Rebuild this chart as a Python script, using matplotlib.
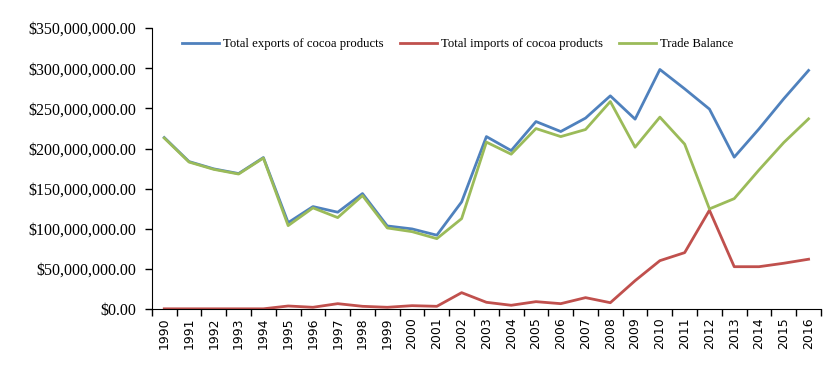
import numpy as np
import matplotlib
matplotlib.use("Agg")
from matplotlib import pyplot as plt
from matplotlib.ticker import FuncFormatter, FixedLocator

# === DATA ===
years = [str(y) for y in range(1990, 2017)]
exports = [213.7, 183.8, 174.7, 168.9, 188.8, 107.8, 127.8, 120.8, 144.0, 103.7,
           100.0, 92.2, 133.6, 214.9, 197.5, 233.6, 221.2, 237.9, 265.6, 236.6,
           298.4, 274.3, 249.1, 189.3, 224.5, 262.0, 297.2]
imports = [0.6, 0.6, 0.6, 0.6, 0.6, 4.1, 2.5, 7.0, 3.7, 2.5,
           4.5, 3.7, 20.7, 8.7, 5.0, 9.5, 7.0, 14.5, 8.2, 35.6,
           60.5, 70.5, 123.3, 53.0, 53.0, 57.3, 62.3]
balance = [213.1, 183.2, 174.1, 168.3, 188.2, 104.1, 126.2, 114.1, 141.5, 101.2,
           96.6, 87.9, 112.8, 208.0, 193.0, 224.9, 214.9, 223.7, 258.5, 201.7,
           239.1, 205.5, 124.9, 137.7, 173.4, 207.5, 237.0]

exports = np.array(exports) * 1e6
imports = np.array(imports) * 1e6
balance = np.array(balance) * 1e6

# === PLOT ===
fig = plt.figure(figsize=(8.39, 3.77), dpi=100)
ax = fig.add_axes([0.181, 0.1796, 0.7975, 0.7461])

x = np.arange(len(years))
ax.plot(x, exports, color='#4F81BD', lw=2, label='Total exports of cocoa products')
ax.plot(x, imports, color='#C0504D', lw=2, label='Total imports of cocoa products')
ax.plot(x, balance, color='#9BBB59', lw=2, label='Trade Balance')

ax.set_xlim(-0.5, len(years) - 0.5)
ax.set_ylim(0, 350e6)
ax.set_yticks(np.arange(0, 350e6 + 1, 50e6))
ax.yaxis.set_major_formatter(FuncFormatter(lambda v, p: '${:,.2f}'.format(v)))
for lab in ax.get_yticklabels():
    lab.set_fontfamily('Liberation Serif')
    lab.set_fontsize(11.5)
ax.tick_params(axis='y', direction='out', length=5, width=1, pad=6)

# year labels sit between boundary tick marks
ax.set_xticks(x)
ax.set_xticklabels(years, rotation=90, fontsize=9, family='DejaVu Sans')
ax.tick_params(axis='x', which='major', length=0, pad=6)
ax.xaxis.set_minor_locator(FixedLocator(np.arange(-0.5, len(years), 1.0)))
ax.tick_params(axis='x', which='minor', direction='out', length=5, width=1)

ax.spines['top'].set_visible(False)
ax.spines['right'].set_visible(False)

ax.legend(loc='center', bbox_to_anchor=(0.457, 0.943), ncol=3, frameon=False,
          prop={'family': 'Liberation Serif', 'size': 9.2},
          handlelength=2.9, columnspacing=1.3, handletextpad=0.3,
          borderpad=0, borderaxespad=0)

plt.savefig('out.png', dpi=100)
